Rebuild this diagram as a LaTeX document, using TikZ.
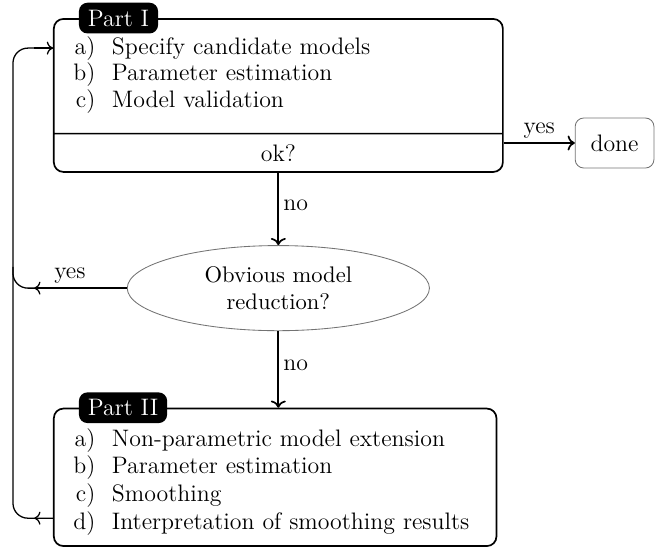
\documentclass[tikz,border=0pt]{standalone}
\usepackage{amsmath}
\usepackage{xcolor}
\usepackage{tikz}
\usetikzlibrary{arrows.meta,positioning,shapes.geometric,shapes.multipart,calc}
\newcommand\itm[1]{\makebox[10.5pt][r]{#1}\hspace{7.8pt}}

\begin{document}
\begin{tikzpicture}[node distance=34pt, font=\fontsize{11.2}{12.3}\selectfont,
  part/.style={draw, thick, rounded corners=4.5pt, text width=193pt, align=left, inner xsep=9pt, inner ysep=4.6pt},
  tag/.style={fill=black, text=white, rounded corners=4pt, inner xsep=4.2pt, minimum height=14pt, anchor=west},
  dec/.style={draw=black!55, ellipse, minimum width=142pt, minimum height=40pt, align=center, inner sep=1pt,
    font=\fontsize{10.6}{12.3}\selectfont},
  fin/.style={draw=black!55, rounded corners=4pt, minimum width=37pt, minimum height=23.5pt},
  e/.style={->, thick}, loop/.style={semithick, rounded corners=7pt},
  lbl/.style={inner sep=2pt}]
\useasboundingbox (0pt,0pt) rectangle (307.8pt,-257.6pt);
% part I with the check
\node[part, rectangle split, rectangle split parts=2, anchor=north west] (p1) at (24.9pt,-8.5pt)
  {\rule{0pt}{11.8pt}\itm{a)}Specify candidate models\\
   \itm{b)}Parameter estimation\\
   \itm{c)}Model validation\rule[-7.5pt]{0pt}{1pt}
   \nodepart{two}\makebox[193pt]{ok?}};
\node[tag] (t1) at ([xshift=12pt]p1.north west) {Part I};
\node[fin] (done) at (288.8pt,-67.2pt) {done};
\node[dec, below=of p1] (red) {Obvious model\\reduction?};
% part II
\node[part, text width=190pt, inner ysep=5pt, anchor=north west] (p2) at ([yshift=-36pt]red.south -| p1.west)
  {\rule{0pt}{12.6pt}\itm{a)}Non-parametric model extension\\[0.7pt]
   \itm{b)}Parameter estimation\\[0.7pt]
   \itm{c)}Smoothing\\[0.7pt]
   \itm{d)}Interpretation of smoothing results\rule[-3pt]{0pt}{1pt}};
\node[tag] (t2) at ([xshift=12pt]p2.north west) {Part II};
% loop back
\coordinate (lt) at (6.1pt,-22.6pt);
\coordinate (lb) at (6.1pt,-243.5pt);
\draw[e](p1.east |- done.west)--node[lbl,above]{yes}(done.west);
\draw[e](p1.south)--node[lbl,right,pos=0.45]{no}(red.north);
\draw[e](red.south)--node[lbl,right,pos=0.45]{no}(red.south |- p2.north);
\draw[loop](lb -| p2.west)--(lb)--(lt)--(lt -| p1.west);
\draw[semithick,->](lt)++(10pt,0)--(lt -| p1.west);
\draw[loop](red.west)--node[lbl,above]{yes}(red.west -| lt)--([yshift=10pt]red.west -| lt);
\draw[semithick,->](red.west)--([xshift=10pt]red.west -| lt);
\draw[semithick,->](lb -| p2.west)--([xshift=10pt]lb);
\end{tikzpicture}
\end{document}
